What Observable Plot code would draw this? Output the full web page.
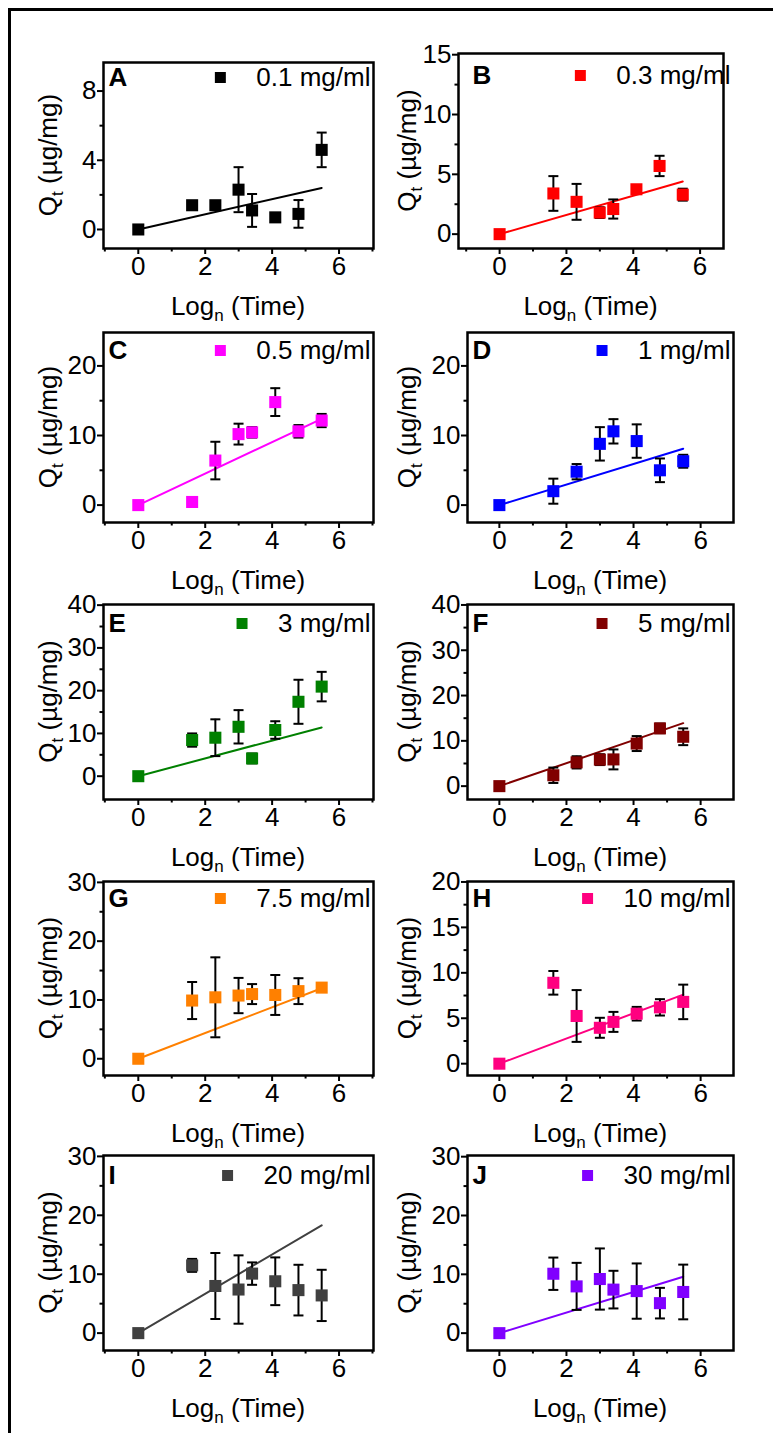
<!DOCTYPE html>
<html><head><meta charset="utf-8">
<script src="https://cdn.jsdelivr.net/npm/d3@7"></script>
<script src="https://cdn.jsdelivr.net/npm/@observablehq/plot@0.6"></script>
<style>
html,body{margin:0;padding:0;background:#fff;}
#fig{position:relative;width:773px;height:1433px;overflow:hidden;background:#fff;font-family:"Liberation Sans",Arial,sans-serif;}
#border{position:absolute;left:8px;top:8px;right:-5px;bottom:-5px;border-top:3px solid #000;border-left:3px solid #000;}
#fig svg{position:absolute;overflow:visible;}
</style></head><body><div id="fig"><div id="border"></div></div>
<script>
// ---- data ----
const logTime = [0, 1.609, 2.303, 2.996, 3.401, 4.094, 4.787, 5.481];
const panelLetters = ["A","B","C","D","E","F","G","H","I","J"];
const concentrations = ["0.1 mg/ml","0.3 mg/ml","0.5 mg/ml","1 mg/ml","3 mg/ml","5 mg/ml","7.5 mg/ml","10 mg/ml","20 mg/ml","30 mg/ml"];
const colors = ["#000000","#ff0000","#ff00ff","#0000ff","#008000","#800000","#ff8000","#ff0080","#404040","#8000ff"];

const qA = [0, 1.4, 1.4, 2.3, 1.1, 0.7, 0.9, 4.6];
const errA = [0, 0.25, 0.25, 1.3, 0.95, 0.25, 0.8, 1.0];
const qB = [0, 3.4, 2.7, 1.8, 2.1, 3.75, 5.7, 3.3];
const errB = [0, 1.45, 1.5, 0.45, 0.8, 0.35, 0.85, 0.5];
const qC = [0, 0.45, 6.4, 10.2, 10.45, 14.8, 10.6, 12.15];
const errC = [0, 0.6, 2.7, 1.5, 0.75, 2.0, 0.9, 0.95];
const qD = [0, 2.0, 4.8, 8.8, 10.6, 9.2, 5.0, 6.3];
const errD = [0, 1.8, 1.1, 2.4, 1.75, 2.4, 1.7, 0.93];
const qE = [0, 8.45, 9.0, 11.55, 4.15, 10.8, 17.4, 20.95];
const errE = [0, 1.55, 4.3, 3.9, 1.15, 2.05, 5.15, 3.45];
const qF = [0, 2.4, 5.25, 5.85, 5.9, 9.4, 12.75, 10.9];
const errF = [0, 1.7, 1.35, 1.2, 2.2, 1.65, 1.05, 1.85];
const qG = [0, 9.9, 10.45, 10.75, 11.0, 10.85, 11.5, 12.1];
const errG = [0, 3.15, 6.8, 3.0, 1.7, 3.4, 2.2, 0.6];
const qH = [0, 8.9, 5.25, 3.95, 4.6, 5.5, 6.2, 6.8];
const errH = [0, 1.3, 2.85, 1.1, 1.1, 0.75, 0.9, 1.9];
const qI = [0, 11.5, 8.0, 7.4, 10.1, 8.8, 7.3, 6.4];
const errI = [0, 1.1, 5.6, 5.8, 1.9, 4.05, 4.3, 4.35];
const qJ = [0, 10.1, 7.95, 9.2, 7.4, 7.15, 5.1, 7.0];
const errJ = [0, 2.75, 4.0, 5.2, 3.2, 4.7, 2.6, 4.65];

// linear fit lines (value at x = 0 and at the last x)
const fitX = [0, 5.481];
const fitStart = [0, 0, 0, 0, 0, 0, 0, 0, 0, 0];
const fitEnd = [2.4, 4.4, 12.4, 8.1, 11.4, 13.9, 12.0, 7.6, 18.3, 9.6];

// axes
const xTicks = [0, 2, 4, 6];
const xMinor = [-1, 1, 3, 5, 7];
const yTicks = [[0,4,8],[0,5,10,15],[0,10,20],[0,10,20],[0,10,20,30,40],[0,10,20,30,40],[0,10,20,30],[0,5,10,15,20],[0,10,20,30],[0,10,20,30]];
const yMinor = [[2,6],[2.5,7.5,12.5],[5,15],[5,15],[5,15,25,35],[5,15,25,35],[5,15,25],[2.5,7.5,12.5,17.5],[5,15,25],[5,15,25]];
const xDomains = [[-1.04,7.03],[-1.23,6.7],[-1.04,7.03],[-0.95,6.98],[-1.04,7.03],[-0.95,6.98],[-1.04,7.03],[-0.95,6.98],[-1.04,7.03],[-0.95,6.98]];
const yDomains = [[-1.1,9.65],[-1.2,15.1],[-2.5,24.8],[-2.5,24.8],[-5.45,40.15],[-2.95,40.1],[-2.85,30.15],[-1.3,20.05],[-2.95,30.15],[-2.95,30.2]];

const Q = [qA,qB,qC,qD,qE,qF,qG,qH,qI,qJ];
const ERR = [errA,errB,errC,errD,errE,errF,errG,errH,errI,errJ];

// ---- layout (page pixels) ----
const frames = [ // left, right, top, bottom
  [103,373,62,248],[458,723,53,248],
  [103,373,332,522],[467,733,332,522],
  [103,373,604,799],[467,733,604,799],
  [103,373,881,1075],[467,733,881,1075],
  [103,373,1155,1350],[467,733,1155,1350]];
const rowTops = [10, 290, 570, 850, 1130];
const rowHeights = [280, 280, 280, 280, 303];
const legendDy = [15, 22, 18, 18, 19, 19, 17, 17, 20, 20];
const legendRight = [370, 730];
const letterLeft = [108, 472];
const yLabelBaseline = [57, 416];
const FS = 26;

const capSymbol = {draw(ctx, size) { const r = Math.sqrt(size / Math.PI); ctx.moveTo(-r, 0); ctx.lineTo(r, 0); }};
const mctx = document.createElement("canvas").getContext("2d");
mctx.font = `${FS}px "Liberation Sans"`;

const fig = document.getElementById("fig");

for (let i = 0; i < 10; i++) {
  const col = i % 2, row = Math.floor(i / 2);
  const svgLeft = col ? 386 : 0, svgW = col ? 387 : 386;
  const svgTop = rowTops[row], svgH = rowHeights[row];
  const [fl, fr, ft, fb] = frames[i];
  const color = colors[i];
  const data = logTime.map((x, k) => ({x, q: Q[i][k], lo: Q[i][k] - ERR[i][k], hi: Q[i][k] + ERR[i][k]}));
  const fit = fitX.map((x, k) => ({x, q: k ? fitEnd[i] : fitStart[i]}));
  const [x0, x1] = xDomains[i];
  const minorX = xMinor.filter(v => v >= x0 && v <= x1);
  const legDx = legendRight[col] - fr;
  const textW = mctx.measureText(concentrations[i]).width;
  const chart = Plot.plot({
    width: svgW, height: svgH,
    marginLeft: fl - svgLeft, marginRight: svgLeft + svgW - fr,
    marginTop: ft - svgTop, marginBottom: svgTop + svgH - fb,
    style: {background: "none", overflow: "visible", fontFamily: '"Liberation Sans", Arial, sans-serif', fontSize: FS + "px", color: "#000"},
    x: {domain: xDomains[i], label: null},
    y: {domain: yDomains[i], label: null},
    marks: [
      Plot.axisX(minorX, {tickSize: 3.5, tickFormat: () => "", strokeWidth: 2, label: null}),
      Plot.axisX(xTicks, {tickSize: 6, tickPadding: 2, strokeWidth: 2, fontSize: FS, label: null}),
      Plot.axisY(yMinor[i], {tickSize: 3.5, tickFormat: () => "", strokeWidth: 2, label: null}),
      Plot.axisY(yTicks[i], {tickSize: 6, tickPadding: 1, strokeWidth: 2, fontSize: FS, label: null}),
      Plot.line(fit, {x: "x", y: "q", stroke: color, strokeWidth: 2}),
      Plot.ruleX(data, {x: "x", y1: "lo", y2: "hi", stroke: "#000", strokeWidth: 2}),
      Plot.dot(data, {x: "x", y: "lo", symbol: capSymbol, r: 5, fill: "none", stroke: "#000", strokeWidth: 2}),
      Plot.dot(data, {x: "x", y: "hi", symbol: capSymbol, r: 5, fill: "none", stroke: "#000", strokeWidth: 2}),
      Plot.dot(data, {x: "x", y: "q", symbol: "square", r: 6.8, fill: color, stroke: "none"}),
      Plot.frame({stroke: "#000", strokeWidth: 2.5}),
      Plot.text([panelLetters[i]], {text: d => d, frameAnchor: "top-left", textAnchor: "start", lineAnchor: "middle",
        dx: letterLeft[col] - fl, dy: legendDy[i], fontWeight: "bold", fontSize: FS, fill: "#000"}),
      Plot.text([concentrations[i]], {text: d => d, frameAnchor: "top-right", textAnchor: "end", lineAnchor: "middle",
        dx: legDx, dy: legendDy[i], fontSize: FS, fill: "#000"}),
      Plot.dot([0], {frameAnchor: "top-right", dx: legDx - textW - 36, dy: legendDy[i], symbol: "square", r: 6.2, fill: color, stroke: "none"})
    ]
  });
  chart.style.left = svgLeft + "px";
  chart.style.top = svgTop + "px";
  const svg = d3.select(chart);
  const xt = svg.append("text").attr("x", (fl + fr) / 2 - svgLeft).attr("y", fb - svgTop + 67)
    .attr("text-anchor", "middle").attr("font-size", FS).attr("fill", "#000");
  xt.append("tspan").text("Log");
  xt.append("tspan").attr("font-size", 17).attr("dy", 6).text("n");
  xt.append("tspan").attr("dy", -6).text("\u00a0(Time)");
  const yt = svg.append("text")
    .attr("transform", `translate(${yLabelBaseline[col] - svgLeft},${(ft + fb) / 2 - svgTop}) rotate(-90)`)
    .attr("text-anchor", "middle").attr("font-size", FS).attr("fill", "#000");
  yt.append("tspan").text("Q");
  yt.append("tspan").attr("font-size", 17).attr("dy", 6).text("t");
  yt.append("tspan").attr("dy", -6).text("\u00a0(\u00b5g/mg)");
  fig.appendChild(chart);
}
</script></body></html>
